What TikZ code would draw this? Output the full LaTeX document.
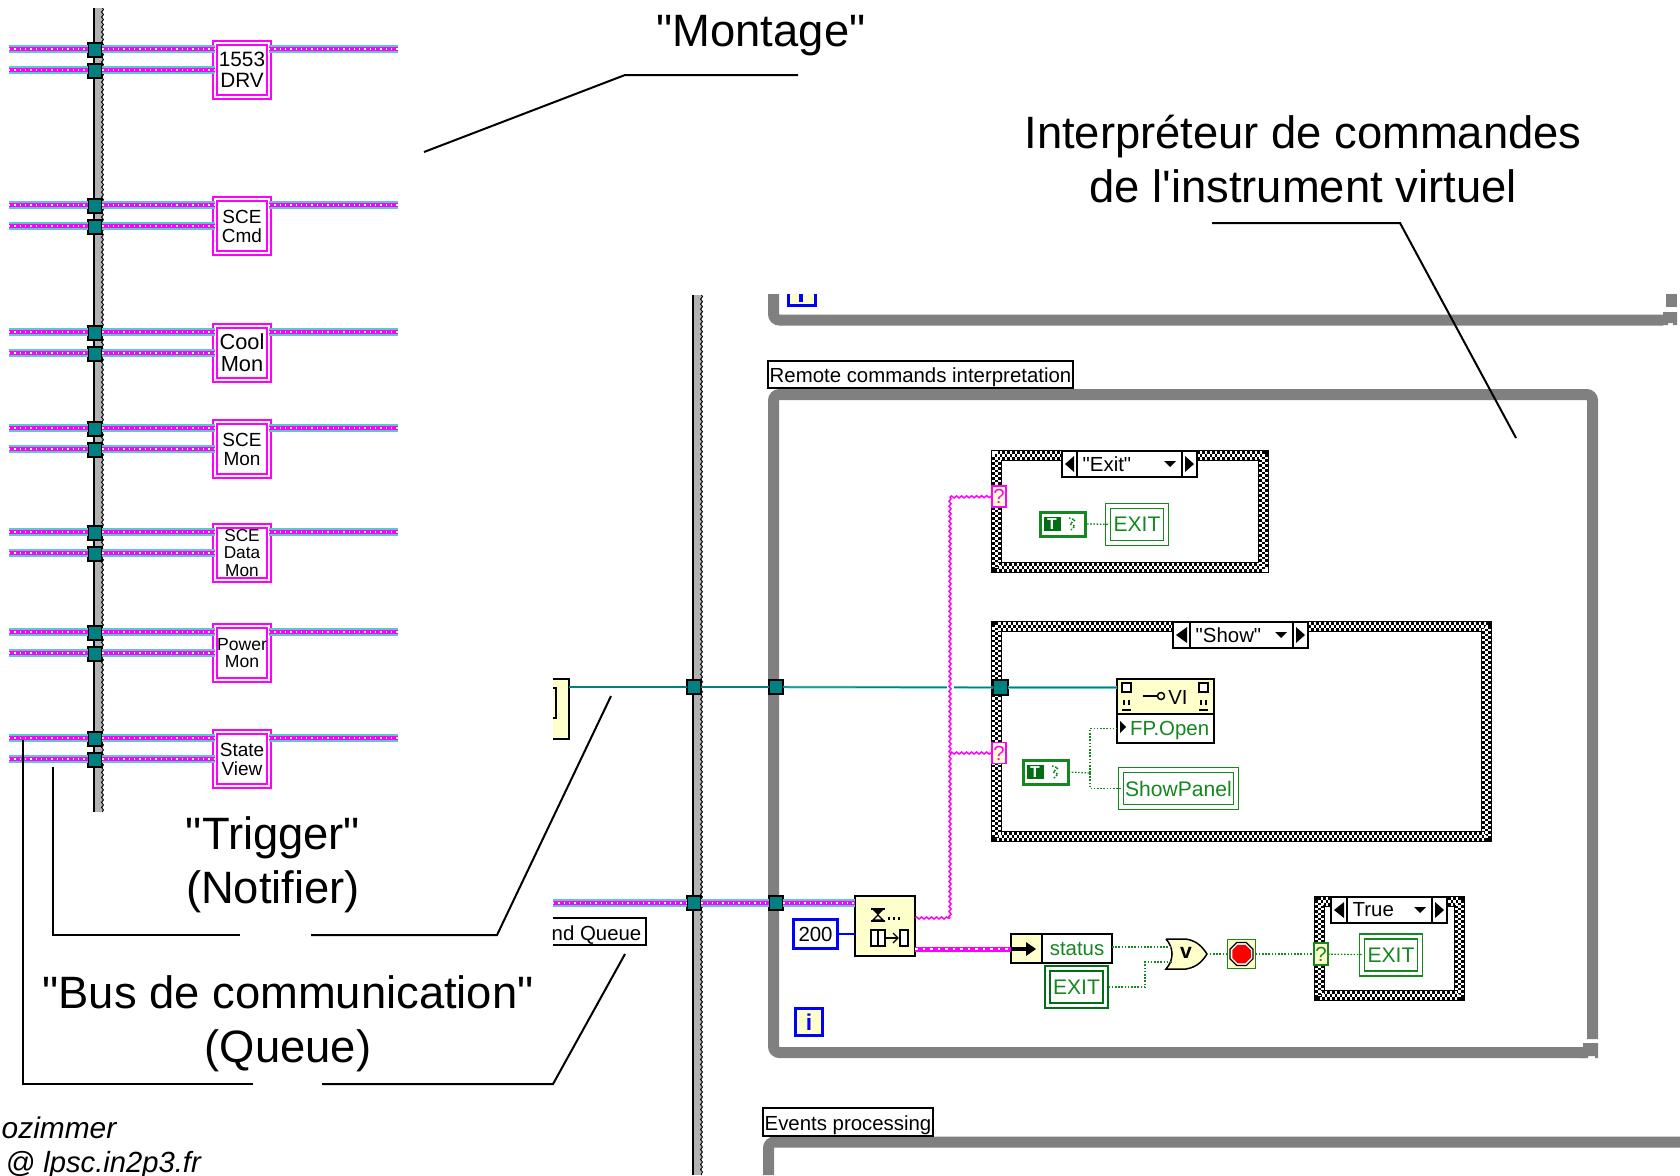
\documentclass[tikz,border=0pt]{standalone}
\usepackage{fontspec}
\setmainfont{Liberation Sans}[Ligatures=TeXOff]
\usetikzlibrary{calc,decorations.pathmorphing,shapes.geometric}
\definecolor{loopgray}{RGB}{128,128,128}
\definecolor{seqgray}{RGB}{178,178,178}
\definecolor{refteal}{RGB}{0,128,128}
\definecolor{lightteal}{RGB}{90,200,200}
\definecolor{errpink}{RGB}{255,0,255}
\definecolor{boolgreen}{RGB}{20,135,30}
\definecolor{darkbool}{RGB}{0,110,20}
\definecolor{nodeyellow}{RGB}{255,255,204}
\definecolor{intblue}{RGB}{0,0,255}
\def\pxw{0.2845pt}
\tikzset{
	wh/.style 2 args={minimum width=#1*0.01cm, minimum height=#2*0.01cm, inner sep=0pt, outer sep=0pt},
	bigtext/.style={font=\fontsize{12.9}{15.4}\selectfont, align=center},
	labeltext/.style={font=\fontsize{5.8}{6.5}\selectfont},
	callout/.style={line width=2*\pxw, black},
	loopline/.style={line width=11*\pxw, loopgray, rounded corners=0.06cm},
	buswire/.style={draw=errpink, line width=3.5*\pxw,
		preaction={draw=lightteal, line width=8*\pxw},
		postaction={draw=white, line width=1.3*\pxw, dash pattern=on 1.3*\pxw off 4*\pxw}},
	refwire/.style={draw=refteal, line width=1.1*\pxw,
		preaction={draw=lightteal, line width=2.4*\pxw}},
	stringwire/.style={draw=errpink, line width=1.5*\pxw, decorate,
		decoration={snake, segment length=5*\pxw, amplitude=1*\pxw}},
	thickstring/.style={draw=errpink, line width=5*\pxw,
		postaction={draw=white, line width=1.5*\pxw, dash pattern=on 2.5*\pxw off 5*\pxw}},
	boolwire/.style={draw=boolgreen, line width=1.3*\pxw, dash pattern=on 1.6*\pxw off 1.6*\pxw},
	tunnel/.style={wh={14.5}{14.5}, draw=black, fill=refteal, line width=2*\pxw},
	vibox/.style={wh={54}{54}, draw=errpink, double=white, fill=white, line width=2*\pxw, double distance=2.2*\pxw, align=center},
	casebox/.style={draw=black, fill=white, line width=11*\pxw,
		postaction={draw=white, line width=9*\pxw, dash pattern=on 2.5*\pxw off 2.5*\pxw},
		postaction={draw=black, line width=3.6*\pxw},
		postaction={draw=white, line width=2.4*\pxw, dash pattern=on 2.5*\pxw off 2.5*\pxw, dash phase=2.5*\pxw}},
	blackbox/.style={draw=black, fill=white, line width=1.6*\pxw, labeltext},
	yellowbox/.style={draw=black, fill=nodeyellow, line width=1.6*\pxw},
	boolcst/.style={draw=boolgreen, fill=white, double=white, line width=1.5*\pxw, double distance=3.4*\pxw, text=boolgreen, font=\fontsize{6}{7}\selectfont},
	intbox/.style={draw=intblue, fill=white, line width=3*\pxw, labeltext},
	qpink/.style={wh={14}{21}, draw=errpink, fill=nodeyellow, line width=1.5*\pxw, text=errpink, labeltext},
	qgreen/.style={wh={14}{22}, draw=boolgreen, fill=nodeyellow, line width=1.5*\pxw, text=boolgreen, labeltext},
}
% boolean constant box
\def\truecst#1(#2,#3){
	\node[wh={45}{24}, draw=boolgreen, fill=white, line width=3*\pxw] (#1) at (#2,#3) {};
	\node[wh={17}{14}, fill=darkbool, text=white, font=\bfseries\fontsize{4.5}{5}\selectfont] (#1T) at (#2-11,#3) {T};
	\draw[boolwire, line width=1.5*\pxw] (#2+6,#3-6) -- (#2+12,#3-4) -- (#2+7,#3) -- (#2+12,#3+2) -- (#2+8,#3+6);
}
% sequence bar with its rough right edge
\def\seqbar(#1,#2)(#3){
	\draw[line width=10*\pxw, seqgray] (#1+5,#2) -- (#1+5,#3);
	\draw[line width=1.6*\pxw, black] (#1+1,#2) -- (#1+1,#3);
	\draw[line width=0.9*\pxw, black, decorate, decoration={snake, segment length=5*\pxw, amplitude=1*\pxw}] (#1+9.5,#2) -- (#1+9.5,#3);
}
% selector of a case frame
\def\casesel#1(#2,#3,#4,#5)(#6,#7)#8{
	\draw[blackbox] (#2,#6) rectangle (#5,#7);
	\draw[blackbox] (#3,#6) -- (#3,#7);
	\draw[blackbox] (#4,#6) -- (#4,#7);
	\fill[black] (#3-3,#6+5) -- (#3-3,#7-5) -- (#2+3,{(#6+#7)/2}) -- cycle;
	\fill[black] (#4+3,#6+5) -- (#4+3,#7-5) -- (#5-3,{(#6+#7)/2}) -- cycle;
	\fill[black] (#4-18,{(#6+#7)/2-3}) -- (#4-6,{(#6+#7)/2-3}) -- (#4-12,{(#6+#7)/2+3}) -- cycle;
	\node[labeltext, anchor=west, inner sep=0pt] (#1) at (#3+5,{(#6+#7)/2}) {#8};
}

\begin{document}
\begin{tikzpicture}[x=0.01cm, y=-0.01cm]
	\useasboundingbox[fill=white] (0,0) rectangle (1680,1175);
	%%%%% MONTAGE %%%%%
	\seqbar(93,8)(812)
	\foreach \n/\y/\fs/\txt in {a/70/5.9/1553\\DRV, b/226/5.4/SCE\\Cmd, c/353/6.2/Cool\\Mon, d/449/5.4/SCE\\Mon,
		e/553/4.9/SCE\\Data\\Mon, f/653/5.0/Power\\Mon, g/759/5.4/State\\View}{
		\node[vibox, font=\fontsize{\fs}{\fs}\selectfont] (vi\n) at (242,\y) {\txt};
		\node[tunnel] (up\n) at (95,\y-20) {};
		\node[tunnel] (lo\n) at (95,\y+1) {};
		\coordinate (upin\n) at (9,\y-21);
		\coordinate (loin\n) at (9,\y);
		\coordinate (upout\n) at (398,\y-21);
		\draw[buswire] (upin\n) -- (upin\n -| up\n.west);
		\draw[buswire] (loin\n) -- (loin\n -| lo\n.west);
		\draw[buswire] (upin\n -| up\n.east) -- (upin\n -| vi\n.west);
		\draw[buswire] (loin\n -| lo\n.east) -- (vi\n);
		\draw[buswire] (upin\n -| vi\n.east) -- (upout\n);
	}
	%%%%% LOOPS %%%%%
	\seqbar(692,295)(1175)
	\draw[loopline] (773.5,294) -- (773.5,320) -- (1663,320);
	\fill[loopgray] (1663,312) -- (1677,312) -- (1677,325) -- (1673,325) -- (1673,323) -- (1668,323) -- (1668,325) -- (1660,325) -- (1660,315) -- (1663,315) -- cycle;
	\fill[loopgray] (1666,294) rectangle (1677,307);
	\fill[nodeyellow] (787,294) rectangle (817,307);
	\draw[intblue, line width=3*\pxw] (788.5,294) -- (788.5,305.5) -- (815.5,305.5) -- (815.5,294);
	\draw[intblue, line width=4*\pxw] (801,294) -- (801,302);
	\draw[loopline] (1592.5,1039) -- (1592.5,394.5) -- (773.5,394.5) -- (773.5,1052.5) -- (1585,1052.5);
	\fill[loopgray] (1583,1043) -- (1598,1043) -- (1598,1058) -- (1595,1058) -- (1595,1056) -- (1588,1056) -- (1588,1058) -- (1580,1058) -- (1580,1047) -- (1583,1047) -- cycle;
	\draw[loopline] (768.5,1175) -- (768.5,1142) -- (1680,1142);
	\node[blackbox, wh={305}{27}] (remote) at (920.5,374.5) {\raisebox{-0.9pt}[4.2pt][1.2pt]{Remote commands interpretation}};
	\node[blackbox, wh={170}{28}] (events) at (848,1122) {\raisebox{-0.9pt}[4.2pt][1.2pt]{Events processing}};
	%%%%% LEFT BOXES %%%%%
	\fill[nodeyellow] (553,679) rectangle (569,739);
	\draw[line width=1.6*\pxw] (553,679) -- (569,679) -- (569,739) -- (553,739);
	\draw[line width=1.4*\pxw] (553,688) -- (556,688) -- (556,718) -- (553,718);
	\node[wh={16}{60}] (refnode) at (561,709) {};
	\node[labeltext, anchor=east, inner sep=0pt] (queuename) at (642,935) {nd Queue};
	\draw[line width=1.6*\pxw] (553,918) -- (646,918) -- (646,945) -- (553,945);
	%%%%% TERMINALS %%%%%
	\node[tunnel] (refseq) at (694,687) {};
	\node[tunnel] (refloop) at (776,687) {};
	\node[tunnel] (busseq) at (694,903) {};
	\node[tunnel] (busloop) at (776,903) {};
	%%%%% CASES %%%%%
	\node[casebox, wh={267}{112}] (caseexit) at (1130,511.5) {};
	\casesel{selexit}(1062,1077,1182,1197)(451,477){"Exit"}
	\node[casebox, wh={490}{210}] (caseshow) at (1241.5,731.5) {};
	\casesel{selshow}(1173,1190,1293,1308)(622,648){"Show"}
	\node[casebox, wh={140}{94}] (casetrue) at (1389.5,948.5) {};
	\casesel{seltrue}(1331,1347,1432,1447)(897,923){True}
	\node[tunnel] (refcase) at (1000.5,687.5) {};
	\node[qpink] (qexit) at (999,496.5) {?};
	\node[qpink] (qshow) at (999,753) {?};
	\node[qgreen] (qtrue) at (1321,954) {?};
	%%%%% CONTENTS %%%%%
	\truecst{tcstexit}(1063,524)
	\node[boolcst, wh={58}{37}] (exita) at (1137,524.5) {EXIT};
	\truecst{tcstshow}(1046,772)
	\node[boolcst, wh={115}{37}] (showpanel) at (1178.5,788.5) {ShowPanel};
	\node[yellowbox, wh={97}{35}] (vihead) at (1165.5,696.5) {};
	\node[labeltext, inner sep=0pt] (vitext) at (1178,697) {VI};
	\draw[line width=2.5*\pxw] (1143,696) -- (1158,696);
	\draw[line width=1.5*\pxw] (1161,696) circle (0.035cm);
	\foreach \dx in {1122,1199}{
		\draw[line width=1.2*\pxw, fill=white] (\dx,683) rectangle (\dx+9,692);
		\draw[line width=1.6*\pxw] (\dx+2,700) -- (\dx+2,705);
		\draw[line width=1.6*\pxw] (\dx+7,700) -- (\dx+7,705);
		\draw[line width=1.2*\pxw] (\dx,710) -- (\dx+9,710);
	}
	\node[blackbox, wh={97}{29}, text=boolgreen, text depth=0pt] (fpopen) at (1165.5,728.5) {\hspace{0.4em}FP.Open};
	\fill[black] (1120,721) -- (1126,727) -- (1120,733) -- cycle;
	\node[yellowbox, wh={60}{60}] (dequeue) at (885,926) {};
	\fill[black] (871,908) rectangle (885,910);
	\fill[black] (871,920) rectangle (885,922);
	\fill[black] (873,910) -- (883,910) -- (878,915) -- cycle;
	\draw[black, line width=1.2*\pxw] (878,915) -- (873,920) -- (883,920) -- cycle;
	\foreach \dx in {888,893,898}{\fill[black] (\dx,917) rectangle (\dx+2,920);}
	\draw[line width=1.3*\pxw, fill=white] (871,930) rectangle (885,946);
	\draw[line width=1.3*\pxw] (878,930) -- (878,946);
	\draw[line width=1.3*\pxw, fill=white] (900,930) rectangle (908,946);
	\draw[line width=1.2*\pxw] (886,938) -- (897,938);
	\draw[line width=1.2*\pxw] (893,933) -- (898,938) -- (893,943);
	\node[intbox, wh={44}{29}] (timeout) at (815.5,934) {200};
	\node[intbox, wh={27}{27}, fill=nodeyellow, text=intblue, font=\bfseries\fontsize{6.5}{7}\selectfont] (itera) at (809,1022) {i};
	\node[blackbox, wh={70}{29}, text=boolgreen] (status) at (1077,948.5) {status};
	\node[yellowbox, wh={31}{29}] (unbundle) at (1026.5,948.5) {};
	\fill[black] (1012,947) rectangle (1026,951);
	\fill[black] (1026,942) -- (1036,949) -- (1026,956) -- cycle;
	\node[boolcst, wh={58}{37}, line width=2.4*\pxw, double distance=3*\pxw, draw=darkbool] (exitb) at (1076.5,987) {EXIT};
	\draw[line width=1.5*\pxw, fill=nodeyellow] (1166,939) -- (1186,939) .. controls (1198,941) and (1203,948) .. (1207,954) .. controls (1203,960) and (1198,967) .. (1186,969) -- (1166,969) .. controls (1174,960) and (1174,948) .. (1166,939);
	\node[wh={41}{30}, font=\bfseries\fontsize{6}{7}\selectfont] (orgate) at (1186,953) {v};
	\node[wh={28}{29}, draw=boolgreen, fill=nodeyellow, line width=1.5*\pxw] (stopnode) at (1241.5,954) {};
	\node[regular polygon, regular polygon sides=8, draw=black, fill=white, line width=1.2*\pxw, inner sep=0pt, minimum size=0.25cm] (stopring) at (1241.5,954) {};
	\node[regular polygon, regular polygon sides=8, fill=red, inner sep=0pt, minimum size=0.2cm] (stopred) at (1241.5,954) {};
	\node[boolcst, wh={58}{37}] (exitc) at (1391,955) {EXIT};
	%%%%% WIRES %%%%%
	\coordinate (joinbot) at (950,918);
	\coordinate (jointop) at (950,497);
	\coordinate (joinmid) at (950,753);
	\coordinate (busin) at (553,903);
	\draw[refwire] (refnode.east |- refseq) -- (refseq);
	\draw[refwire] (refseq) -- (refloop);
	\draw[refwire] (refloop) -- (refcase);
	\draw[refwire] (refcase) -- (refcase -| vihead.west);
	\draw[buswire] (busin) -- (busseq);
	\draw[buswire] (busseq) -- (busloop);
	\draw[buswire] (busloop) -- (busloop -| dequeue.west);
	\draw[white, line width=7*\pxw] (joinmid |- refseq) ++(0,-8) -- ++(0,16);
	\draw[stringwire] (dequeue.east |- joinbot) -- (joinbot);
	\draw[stringwire] (joinbot) -- (jointop);
	\draw[stringwire] (jointop) -- (qexit);
	\draw[stringwire] (joinmid) -- (qshow);
	\coordinate (stringout) at (915,949);
	\draw[thickstring] (stringout) -- (unbundle.west |- stringout);
	\draw[intblue, line width=1.5*\pxw] (timeout.east) -- (timeout.east -| dequeue.west);
	\draw[boolwire] (tcstexit) ++(24,0) -- (exita);
	\coordinate (branch) at (1090,773);
	\draw[boolwire] (tcstshow.east) -- (branch);
	\draw[boolwire] (branch) |- (fpopen.west);
	\draw[boolwire] (branch) |- (showpanel.west);
	\coordinate (orin) at (1172,947);
	\coordinate (orlow) at (1172,962);
	\coordinate (bendx) at (1145,962);
	\draw[boolwire] (status.east |- orin) -- (orin);
	\draw[boolwire] (exitb.east) ++(3,0) -| (bendx) -- (orlow);
	\draw[boolwire] (orgate.east) ++(0,1) -- (stopnode.west);
	\draw[boolwire] (stopnode.east) -- (qtrue);
	\draw[boolwire] (qtrue) -- (exitc);
	%%%%% CALLOUTS %%%%%
	\node[bigtext] (montage) at (761,36) {"Montage"};
	\coordinate (montagea) at (424,152);
	\coordinate (montageb) at (625,75);
	\coordinate (montagec) at (798,75);
	\draw[callout] (montagea) -- (montageb) -- (montagec);
	\node[bigtext] (interp) at (1303,159) {Interpréteur de commandes\\de l'instrument virtuel};
	\coordinate (interpa) at (1212,223);
	\coordinate (interpb) at (1400,223);
	\coordinate (interpc) at (1516,438);
	\draw[callout] (interpa) -- (interpb) -- (interpc);
	\node[bigtext] (trigger) at (273,865) {"Trigger"\\(Notifier)};
	\coordinate (triga) at (53,767);
	\coordinate (trigb) at (53,935);
	\coordinate (trigc) at (240,935);
	\coordinate (trigd) at (311,935);
	\coordinate (trige) at (497,935);
	\coordinate (trigf) at (611,696);
	\draw[callout] (triga) -- (trigb) -- (trigc);
	\draw[callout] (trigd) -- (trige) -- (trigf);
	\node[bigtext] (bus) at (288,1024) {"Bus de communication"\\(Queue)};
	\coordinate (busa) at (23,740);
	\coordinate (busb) at (23,1084);
	\coordinate (busc) at (253,1084);
	\coordinate (busd) at (322,1084);
	\coordinate (buse) at (553,1084);
	\coordinate (busf) at (625,954);
	\draw[callout] (busa) -- (busb) -- (busc);
	\draw[callout] (busd) -- (buse) -- (busf);
	\node[anchor=west, inner sep=0pt, font=\itshape\fontsize{8.5}{10}\selectfont] (mailname) at (1,1128) {ozimmer};
	\node[anchor=west, inner sep=0pt, font=\itshape\fontsize{8.3}{10}\selectfont] (mailhost) at (5,1165) {@ lpsc.in2p3.fr};
\end{tikzpicture}
\end{document}
